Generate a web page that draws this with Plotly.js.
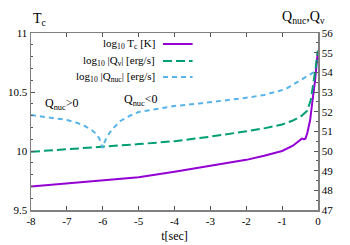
<!DOCTYPE html>
<html>
<head>
<meta charset="utf-8">
<script src="https://cdn.plot.ly/plotly-3.0.1.min.js"></script>
<style>html,body{margin:0;padding:0;background:#fff;}#chart{width:350px;height:245px;}</style>
</head>
<body>
<div id="chart"></div>
<script>
// time [sec]
var tTc = [-8, -7, -6, -5, -4, -3, -2, -1.5, -1, -0.7, -0.55, -0.45, -0.4, -0.35, -0.3, -0.22, -0.14, -0.08, -0.03, 0];
var logTc = [9.70, 9.726, 9.75, 9.778, 9.825, 9.873, 9.925, 9.96, 10.0, 10.045, 10.08, 10.105, 10.1, 10.105, 10.15, 10.26, 10.46, 10.6, 10.77, 10.85];

var tQv = [-8, -7, -6, -5, -4, -3, -2, -1.5, -1, -0.7, -0.45, -0.3, -0.2, -0.12, -0.06, -0.02, 0];
var logQv = [49.96, 50.08, 50.2, 50.35, 50.5, 50.73, 51.0, 51.15, 51.35, 51.55, 51.8, 52.05, 52.6, 53.5, 54.3, 54.9, 55.1];

var tQnuc = [-8, -7.5, -7, -6.7, -6.5, -6.3, -6.2, -6.1, -6.04, -6.0, -5.96, -5.9, -5.8, -5.7, -5.5, -5.2, -5.0, -4.5, -4, -3.3, -2.5, -2.1, -1.5, -1.2, -0.9, -0.64, -0.45, -0.28, -0.1, 0];
var logQnuc = [51.83, 51.72, 51.58, 51.42, 51.27, 51.05, 50.9, 50.65, 50.35, 50.15, 50.4, 50.66, 50.95, 51.17, 51.54, 51.83, 51.98, 52.13, 52.29, 52.42, 52.57, 52.68, 52.85, 53.0, 53.15, 53.44, 53.65, 53.86, 54.02, 54.05];

var seriesNames = ['log<sub>10</sub> T<sub>c</sub> [K]', 'log<sub>10</sub> |Q<sub>ν</sub>| [erg/s]', 'log<sub>10</sub> |Q<sub>nuc</sub>| [erg/s]'];
var seriesColors = ['#9400d3', '#009e73', '#56b4e9'];
var seriesDash = ['solid', '9px,4px', '5px,4px'];
var xTicks = [-8, -7, -6, -5, -4, -3, -2, -1, 0];
var yTicksLeft = [9.5, 10, 10.5, 11];
var yTicksRight = [47, 48, 49, 50, 51, 52, 53, 54, 55, 56];

var serif = 'Liberation Serif, Times New Roman, serif';

var traces = [
  {x: tTc, y: logTc, yaxis: 'y', mode: 'lines', line: {color: seriesColors[0], width: 2, dash: seriesDash[0]}, showlegend: false},
  {x: tQv, y: logQv, yaxis: 'y2', mode: 'lines', line: {color: seriesColors[1], width: 2, dash: seriesDash[1]}, showlegend: false},
  {x: tQnuc, y: logQnuc, yaxis: 'y2', mode: 'lines', line: {color: seriesColors[2], width: 2, dash: seriesDash[2]}, showlegend: false}
];

var legendY = [0.938, 0.842, 0.751];
var annotations = [], shapes = [];
for (var i = 0; i < 3; i++) {
  annotations.push({xref: 'paper', yref: 'paper', x: 0.44, y: legendY[i], xanchor: 'right', yanchor: 'middle',
    text: seriesNames[i], showarrow: false, font: {family: serif, size: 11, color: '#000'}});
  shapes.push({type: 'line', xref: 'paper', yref: 'paper', x0: 0.46, x1: 0.563, y0: legendY[i], y1: legendY[i],
    line: {color: seriesColors[i], width: 2, dash: seriesDash[i]}});
}
annotations.push({xref: 'x', yref: 'paper', x: -7.14, y: 0.60, text: 'Q<sub>nuc</sub>>0', showarrow: false,
  font: {family: serif, size: 12, color: '#000'}});
annotations.push({xref: 'x', yref: 'paper', x: -4.93, y: 0.62, text: 'Q<sub>nuc</sub><0', showarrow: false,
  font: {family: serif, size: 12, color: '#000'}});
annotations.push({xref: 'paper', yref: 'paper', x: 0.0, y: 1.075, xanchor: 'left', yanchor: 'middle', text: 'T<sub>c</sub>', showarrow: false,
  font: {family: serif, size: 14, color: '#000'}});
annotations.push({xref: 'paper', yref: 'paper', x: 1.03, y: 1.085, xanchor: 'right', yanchor: 'middle', text: 'Q<sub>nuc</sub>,Q<sub>ν</sub>', showarrow: false,
  font: {family: serif, size: 14, color: '#000'}});

var layout = {
  width: 350, height: 245,
  margin: {l: 31, r: 32, t: 33, b: 35},
  paper_bgcolor: '#fff', plot_bgcolor: '#fff',
  font: {family: serif, size: 11, color: '#000'},
  showlegend: false,
  xaxis: {
    range: [-8, 0], tickvals: xTicks, ticktext: xTicks.map(String),
    ticks: 'inside', ticklen: 4, tickcolor: '#555', showline: true, linecolor: '#808080', linewidth: 1.5,
    mirror: 'ticks', showgrid: false, zeroline: false,
    tickfont: {family: serif, size: 11, color: '#000'},
    title: {text: 't[sec]', font: {family: serif, size: 12, color: '#000'}, standoff: 6}
  },
  yaxis: {
    range: [9.5, 11], tickvals: yTicksLeft, ticktext: ['9.5', '10', '10.5', '11'],
    ticks: 'inside', ticklen: 4, tickcolor: '#555', showline: true, linecolor: '#808080', linewidth: 1.5,
    showgrid: false, zeroline: false,
    minor: {dtick: 0.1, ticks: 'inside', ticklen: 2, tickcolor: '#555', showgrid: false},
    tickfont: {family: serif, size: 11, color: '#000'}
  },
  yaxis2: {
    range: [47, 56], overlaying: 'y', side: 'right', tickvals: yTicksRight, ticktext: yTicksRight.map(String),
    ticks: 'inside', ticklen: 4, tickcolor: '#555', showline: true, linecolor: '#808080', linewidth: 1.5,
    showgrid: false, zeroline: false,
    minor: {dtick: 0.5, ticks: 'inside', ticklen: 2, tickcolor: '#555', showgrid: false},
    tickfont: {family: serif, size: 11, color: '#000'}
  },
  annotations: annotations,
  shapes: shapes
};

Plotly.newPlot('chart', traces, layout, {staticPlot: true, displayModeBar: false});
</script>
</body>
</html>
